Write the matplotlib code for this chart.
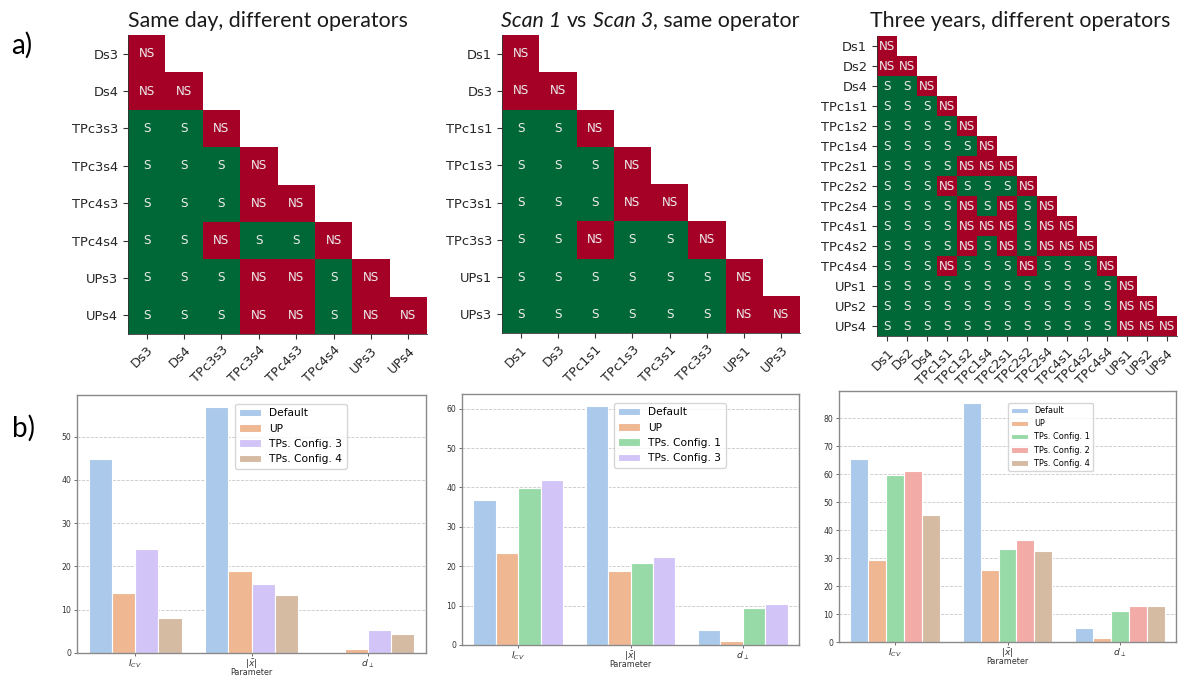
import numpy as np
import matplotlib
matplotlib.use("Agg")
import matplotlib.pyplot as plt
from matplotlib.colors import ListedColormap
import seaborn as sns

# ---------------- data ----------------
labels1 = ["Ds3", "Ds4", "TPc3s3", "TPc3s4", "TPc4s3", "TPc4s4", "UPs3", "UPs4"]
sig1 = ["NS",
        "NS NS",
        "S S NS",
        "S S S NS",
        "S S S NS NS",
        "S S NS S S NS",
        "S S S NS NS S NS",
        "S S S NS NS S NS NS"]

labels2 = ["Ds1", "Ds3", "TPc1s1", "TPc1s3", "TPc3s1", "TPc3s3", "UPs1", "UPs3"]
sig2 = ["NS",
        "NS NS",
        "S S NS",
        "S S S NS",
        "S S S NS NS",
        "S S NS S S NS",
        "S S S S S S NS",
        "S S S S S S NS NS"]

labels3 = ["Ds1", "Ds2", "Ds4", "TPc1s1", "TPc1s2", "TPc1s4", "TPc2s1", "TPc2s2",
           "TPc2s4", "TPc4s1", "TPc4s2", "TPc4s4", "UPs1", "UPs2", "UPs4"]
sig3 = ["NS",
        "NS NS",
        "S S NS",
        "S S S NS",
        "S S S S NS",
        "S S S S S NS",
        "S S S S NS NS NS",
        "S S S NS S S S NS",
        "S S S S NS S NS S NS",
        "S S S S NS NS NS S NS NS",
        "S S S S NS S NS S NS NS NS",
        "S S S NS S S S NS S S S NS",
        "S S S S S S S S S S S S NS",
        "S S S S S S S S S S S S NS NS",
        "S S S S S S S S S S S S NS NS NS"]

# title pieces: (text, italic?)
title1 = [("Same day, different operators", False)]
title2 = [("Scan 1", True), ("vs", False), ("Scan 3", True), (", same operator", False)]
title3 = [("Three years, different operators", False)]

params = [r"$I_{CV}$", r"$|\bar{x}|$", r"$d_\perp$"]

series1 = ["Default", "UP", "TPs. Config. 3", "TPs. Config. 4"]
vals1 = [[44.8, 56.8, np.nan],
         [13.8, 18.9, 0.9],
         [24.1, 15.9, 5.4],
         [8.0, 13.5, 4.5]]

series2 = ["Default", "UP", "TPs. Config. 1", "TPs. Config. 3"]
vals2 = [[36.7, 60.7, 3.8],
         [23.3, 18.9, 0.9],
         [39.9, 20.8, 9.5],
         [41.9, 22.3, 10.3]]

series3 = ["Default", "UP", "TPs. Config. 1", "TPs. Config. 2", "TPs. Config. 4"]
vals3 = [[65.5, 85.5, 4.9],
         [29.3, 25.6, 1.4],
         [59.8, 33.2, 11.1],
         [61.3, 36.5, 13.0],
         [45.4, 32.4, 12.7]]

# ---------------- style ----------------
RED = "#a50026"
GREEN = "#006837"
pastel = sns.color_palette("pastel")
color_of = {
    "Default": pastel[0], "UP": pastel[1], "TPs. Config. 1": pastel[2],
    "TPs. Config. 2": pastel[3], "TPs. Config. 3": pastel[4], "TPs. Config. 4": pastel[5],
}
color_of = {k: sns.desaturate(v, 0.75) for k, v in color_of.items()}

plt.rcParams["mathtext.fontset"] = "dejavusans"

W, H = 1178, 681
fig = plt.figure(figsize=(W / 100, H / 100), dpi=100)
TITLE_FS = 15.4


def px_axes(l, t, r, b):
    return fig.add_axes([l / W, 1 - b / H, (r - l) / W, (b - t) / H])


def draw_title(ax, pieces, left_px, bottom_px):
    prev = None
    for txt, it in pieces:
        style = "italic" if it else "normal"
        if prev is None:
            prev = ax.annotate(txt, xy=(left_px / W, 1 - bottom_px / H),
                               xycoords="figure fraction", ha="left", va="bottom",
                               fontsize=TITLE_FS, family="Lato", style=style,
                               color="#1a1a1a", annotation_clip=False)
        else:
            gap = 0 if txt.startswith(",") else 4.0
            prev = ax.annotate(txt, xy=(1, 0), xycoords=prev, xytext=(gap, 0),
                               textcoords="offset points", ha="left", va="bottom",
                               fontsize=TITLE_FS, family="Lato", style=style,
                               color="#1a1a1a", annotation_clip=False)


def draw_heat(ax, labels, rows):
    n = len(labels)
    M = np.full((n, n), np.nan)
    for i, row in enumerate(rows):
        for j, v in enumerate(row.split()):
            M[i, j] = 1.0 if v == "S" else 0.0
    cmap = ListedColormap([RED, GREEN])
    ax.pcolormesh(np.arange(n + 1), np.arange(n + 1), np.ma.masked_invalid(M),
                  cmap=cmap, vmin=0, vmax=1)
    for i, row in enumerate(rows):
        for j, v in enumerate(row.split()):
            ax.text(j + 0.5, i + 0.5, v, ha="center", va="center",
                    color="#ececec", fontsize=8.6)
    ax.set_xlim(0, n)
    ax.set_ylim(n, 0)
    ax.set_xticks(np.arange(n) + 0.5)
    ax.set_xticklabels(labels, rotation=45, ha="right", rotation_mode="anchor",
                       fontsize=9.4, color="#262626")
    ax.set_yticks(np.arange(n) + 0.5)
    ax.set_yticklabels(labels, fontsize=9.4, color="#262626")
    ax.tick_params(length=3.5, width=0.8, color="#333333")
    for s in ["top", "right"]:
        ax.spines[s].set_visible(False)
    for s in ["left", "bottom"]:
        ax.spines[s].set_linewidth(0.6)
        ax.spines[s].set_color("#333333")


def draw_bars(ax, series, vals, legend_anchor, legend_fs):
    k = len(series)
    width = 0.8 / k
    x = np.arange(len(params))
    for i, (name, v) in enumerate(zip(series, vals)):
        off = -0.4 + width * (i + 0.5)
        ax.bar(x + off, v, width, color=color_of[name], edgecolor="white",
               linewidth=0.8, label=name, zorder=2)
    ax.set_xlim(-0.5, len(params) - 0.5)
    ax.set_xticks(x)
    ax.set_xticklabels(params, fontsize=6.6, color="#333333")
    ax.tick_params(length=2.2, width=0.6, color="#555555")
    ax.tick_params(axis="y", labelsize=5.6, labelcolor="#333333", pad=2)
    ax.tick_params(axis="x", pad=0.8)
    ax.set_xlabel("Parameter", fontsize=5.8, color="#333333", labelpad=-1.5)
    ax.yaxis.grid(True, linestyle="--", color="#c8c8c8", linewidth=0.6, zorder=0)
    ax.set_axisbelow(True)
    for s in ax.spines.values():
        s.set_color("#8a8a8a")
        s.set_linewidth(1.0)
    ax.legend(loc="upper left", bbox_to_anchor=legend_anchor, fontsize=legend_fs,
              frameon=True, borderaxespad=0)


ax1 = px_axes(128, 35, 427, 334)
draw_heat(ax1, labels1, sig1)
ax2 = px_axes(502, 35, 800, 333)
draw_heat(ax2, labels2, sig2)
ax3 = px_axes(877, 36, 1177, 336)
draw_heat(ax3, labels3, sig3)

draw_title(ax1, title1, 128, 31)
draw_title(ax2, title2, 501, 31)
draw_title(ax3, title3, 870, 31)

b1 = px_axes(77, 395, 426, 653)
draw_bars(b1, series1, vals1, ((235 - 77) / 349, (653 - 404) / 258), 7.7)
b2 = px_axes(462, 394, 799, 645)
draw_bars(b2, series2, vals2, ((614 - 462) / 337, (645 - 403) / 251), 7.7)
b3 = px_axes(839, 391, 1176, 642)
draw_bars(b3, series3, vals3, ((1008 - 839) / 337, (642 - 403) / 251), 5.9)

fig.text(11 / W, 1 - 45 / H, "a)", fontsize=20, family="Lato", va="center", ha="left")
fig.text(12 / W, 1 - 428 / H, "b)", fontsize=20, family="Lato", va="center", ha="left")

fig.savefig("out.png", dpi=100)
